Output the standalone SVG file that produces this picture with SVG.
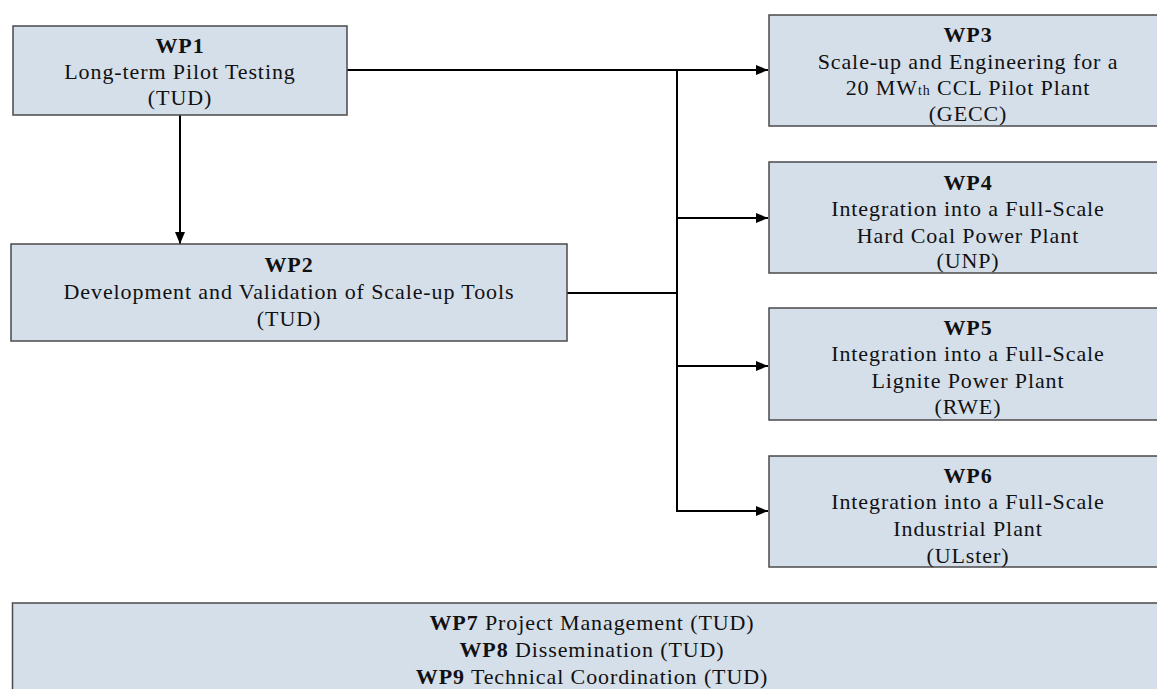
<svg xmlns="http://www.w3.org/2000/svg" width="1157" height="689" viewBox="0 0 1157 689">
<style>
.box{fill:#d5dfea;stroke:#4a4a4a;stroke-width:1.5}
.t{font-family:"Liberation Serif","Times New Roman",serif;font-size:22px;fill:#111;text-anchor:middle;letter-spacing:0.9px}
.b{font-weight:bold}
.line{fill:none;stroke:#000;stroke-width:2}
</style>
<defs>
<marker id="arr" markerWidth="12" markerHeight="10" refX="12" refY="5" orient="auto" markerUnits="userSpaceOnUse">
<path d="M0,0 L12,5 L0,10 Z" fill="#000"/>
</marker>
</defs>
<g id="connectors">
<line class="line" x1="347" y1="70" x2="768" y2="70" marker-end="url(#arr)"/>
<line class="line" x1="180" y1="115" x2="180" y2="244" marker-end="url(#arr)"/>
<line class="line" x1="567" y1="293" x2="677" y2="293"/>
<line class="line" x1="677" y1="70" x2="677" y2="512"/>
<line class="line" x1="676" y1="218" x2="768" y2="218" marker-end="url(#arr)"/>
<line class="line" x1="676" y1="366" x2="768" y2="366" marker-end="url(#arr)"/>
<line class="line" x1="676" y1="511" x2="768" y2="511" marker-end="url(#arr)"/>
</g>
<g id="wp1">
<rect class="box" x="13" y="26" width="334" height="89"/>
<text class="t b" x="180" y="53">WP1</text>
<text class="t" x="180" y="79">Long-term Pilot Testing</text>
<text class="t" x="180" y="105">(TUD)</text>
</g>
<g id="wp2">
<rect class="box" x="11" y="244" width="556" height="97"/>
<text class="t b" x="289" y="272">WP2</text>
<text class="t" x="289" y="299">Development and Validation of Scale-up Tools</text>
<text class="t" x="289" y="326">(TUD)</text>
</g>
<g id="wp3">
<rect class="box" x="769" y="15" width="400" height="111"/>
<text class="t b" x="968" y="42">WP3</text>
<text class="t" x="968" y="68.5">Scale-up and Engineering for a</text>
<text class="t" x="968" y="95">20 MW<tspan font-size="14">th</tspan> CCL Pilot Plant</text>
<text class="t" x="968" y="121">(GECC)</text>
</g>
<g id="wp4">
<rect class="box" x="769" y="162" width="400" height="111"/>
<text class="t b" x="968" y="190">WP4</text>
<text class="t" x="968" y="216">Integration into a Full-Scale</text>
<text class="t" x="968" y="242.5">Hard Coal Power Plant</text>
<text class="t" x="968" y="268">(UNP)</text>
</g>
<g id="wp5">
<rect class="box" x="769" y="308" width="400" height="112"/>
<text class="t b" x="968" y="335">WP5</text>
<text class="t" x="968" y="361">Integration into a Full-Scale</text>
<text class="t" x="968" y="387.5">Lignite Power Plant</text>
<text class="t" x="968" y="414">(RWE)</text>
</g>
<g id="wp6">
<rect class="box" x="769" y="456" width="400" height="111"/>
<text class="t b" x="968" y="483">WP6</text>
<text class="t" x="968" y="509">Integration into a Full-Scale</text>
<text class="t" x="968" y="536">Industrial Plant</text>
<text class="t" x="968" y="562.5">(ULster)</text>
</g>
<g id="wp789">
<rect class="box" x="12.5" y="603" width="1160" height="120"/>
<text class="t" x="592" y="630"><tspan class="b">WP7</tspan> Project Management (TUD)</text>
<text class="t" x="592" y="657"><tspan class="b">WP8</tspan> Dissemination (TUD)</text>
<text class="t" x="592" y="684"><tspan class="b">WP9</tspan> Technical Coordination (TUD)</text>
</g>
</svg>
